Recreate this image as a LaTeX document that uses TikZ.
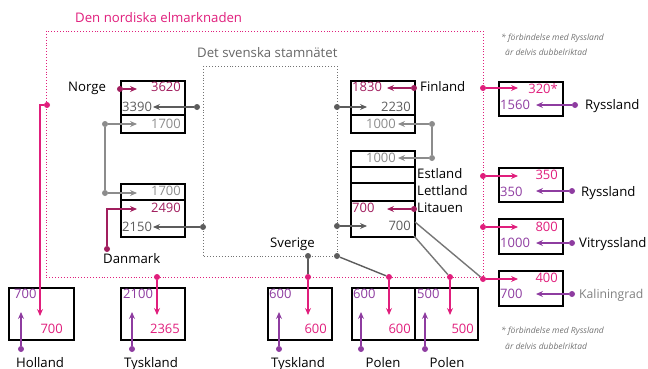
\documentclass[tikz,border=0pt]{standalone}
\usepackage{fontspec}
\setmainfont{Open Sans}
\usepackage{tikz}
\usetikzlibrary{arrows.meta,positioning,calc}
\definecolor{elPink}{HTML}{E01E7C}
\definecolor{elWine}{HTML}{A11E5E}
\definecolor{elPurple}{HTML}{8E3CA0}
\definecolor{elDark}{HTML}{5C5C5C}
\definecolor{elLight}{HTML}{8C8C8C}
\definecolor{elMid}{HTML}{767676}
\tikzset{
  elbox/.style={draw=black,line width=1.6pt,anchor=north west,inner sep=0pt,minimum width=64pt},
  knot/.style={circle,fill=#1,inner sep=0pt,minimum size=6pt},
  flow/.style={line width=1.4pt,-{Stealth[length=7pt,width=6pt,inset=2.5pt]}},
  link/.style={line width=1.6pt},
  num/.style={inner sep=0pt,font=\fontsize{13}{15}\selectfont},
  land/.style={inner sep=0pt,font=\fontsize{13.2}{16}\selectfont},
  note/.style={inner sep=0pt,anchor=base west,black!55,font=\fontsize{8.5}{10}\selectfont\itshape},
}

\begin{document}
\begin{tikzpicture}[x=1pt,y=-1pt]
\useasboundingbox (0,0) rectangle (648,369);
\draw[elPink,dotted,line width=0.9pt] (46,31) rectangle (483,277);
\node[land,anchor=base west,elPink] (nordtitle) at (75,23) {Den nordiska elmarknaden};
\draw[black!55,dotted,line width=0.9pt] (203,66) rectangle (337,256);
\node[land,anchor=base west,black!60] (sthtitle) at (197,58) {Det svenska stamnätet};
\node[note] (note1a) at (501,41) {* förbindelse med Ryssland};
\node[note] (note1b) at (505,56) {är delvis dubbelriktad};
\node[note] (note2a) at (501,333) {* förbindelse med Ryssland};
\node[note] (note2b) at (505,349) {är delvis dubbelriktad};

% Norge och Danmark
\node[elbox,minimum height=52pt] (norbox) at (120,80) {};
\draw[line width=1.6pt] (120,115) -- (184,115);
\node[land,anchor=base west] (norge) at (68,92) {Norge};
\node[num,anchor=base east,elWine] (nor-a) at (181,92) {3620};
\node[num,anchor=base west,elDark] (nor-b) at (122,111) {3390};
\node[num,anchor=base east,elLight] (nor-c) at (181,128) {1700};
\node[elbox,minimum height=53pt] (dkbox) at (120,183) {};
\draw[line width=1.6pt] (120,200) -- (184,200);
\node[num,anchor=base east,elLight] (dk-c) at (181,195) {1700};
\node[num,anchor=base east,elWine] (dk-a) at (181,212) {2490};
\node[num,anchor=base west,elDark] (dk-b) at (122,231) {2150};
\node[land,anchor=base west] (danmark) at (103,263) {Danmark};

\node[knot=elWine] (nor-ut) at (120,89) {};
\coordinate (nor-in) at (137,89);
\draw[flow,elWine] (nor-ut) -- (nor-in);
\node[knot=elDark] (se-nor) at (197,107) {};
\coordinate (se-nor-in) at (153,107);
\draw[flow,elDark] (se-nor) -- (se-nor-in);
\node[knot=elLight] (sk-top) at (105,124) {};
\node[knot=elLight] (sk-bot) at (105,193) {};
\coordinate (sk-top-in) at (137,124);
\coordinate (sk-bot-in) at (137,193);
\draw[link,elLight] (sk-top) -- (sk-bot);
\draw[flow,elLight] (sk-top) -- (sk-top-in);
\draw[flow,elLight] (sk-bot) -- (sk-bot-in);
\node[knot=elWine] (dk-ut) at (107,249) {};
\coordinate (dk-in) at (137,209);
\draw[flow,elWine] (dk-ut) |- (dk-in);
\node[knot=elDark] (se-dk) at (203,227) {};
\coordinate (se-dk-in) at (153,227);
\draw[flow,elDark] (se-dk) -- (se-dk-in);

% Finland och Baltikum
\node[elbox,minimum height=52pt] (finbox) at (350,80) {};
\draw[line width=1.6pt] (350,115) -- (414,115);
\node[land,anchor=base west] (finland) at (420,92) {Finland};
\node[num,anchor=base west,elWine] (fin-a) at (352,92) {1830};
\node[num,anchor=base east,elDark] (fin-b) at (411,111) {2230};
\node[num,anchor=base east,elLight] (fin-c) at (396,128) {1000};
\node[elbox,minimum height=86pt] (baltbox) at (350,150) {};
\draw[line width=1.6pt] (350,167) -- (414,167);
\draw[line width=1.6pt] (350,183) -- (414,183);
\draw[line width=1.6pt] (350,201) -- (414,201);
\node[num,anchor=base east,elLight] (balt-c) at (396,162) {1000};
\node[land,anchor=base west] (estland) at (417,178) {Estland};
\node[land,anchor=base west] (lettland) at (417,195) {Lettland};
\node[land,anchor=base west] (litauen) at (417,212) {Litauen};
\node[num,anchor=base west,elWine] (lit-a) at (352,212) {700};
\node[num,anchor=base east,elDark] (lit-b) at (411,230) {700};

\node[knot=elWine] (fin-ut) at (414,88) {};
\coordinate (fin-in) at (387,88);
\draw[flow,elWine] (fin-ut) -- (fin-in);
\node[knot=elDark] (se-fin) at (337,107) {};
\coordinate (se-fin-in) at (367,107);
\draw[flow,elDark] (se-fin) -- (se-fin-in);
\node[knot=elLight] (est-top) at (432,124) {};
\node[knot=elLight] (est-bot) at (432,158) {};
\coordinate (est-top-in) at (398,124);
\coordinate (est-bot-in) at (398,158);
\draw[link,elLight] (est-top) -- (est-bot);
\draw[flow,elLight] (est-top) -- (est-top-in);
\draw[flow,elLight] (est-bot) -- (est-bot-in);
\node[knot=elWine] (lit-ut) at (414,209) {};
\coordinate (lit-in) at (387,209);
\draw[flow,elWine] (lit-ut) -- (lit-in);
\node[knot=elDark] (se-lit) at (337,226) {};
\coordinate (se-lit-in) at (367,226);
\draw[flow,elDark] (se-lit) -- (se-lit-in);

% Sverige mot kontinenten
\node[land,anchor=base west] (sverige) at (270,247) {Sverige};
\node[knot=elDark] (se-ty) at (308,256) {};
\node[knot=elDark] (se-hörn) at (337,256) {};
\coordinate (lit-k1) at (415,222);
\coordinate (lit-k2) at (414,236);
\node[knot=elPink] (ty2-ut) at (308,277) {};
\node[knot=elPink] (pl1-ut) at (389,277) {};
\node[knot=elPink] (pl2-ut) at (450,277) {};
\node[knot=elPink] (kal-ut) at (483,279) {};
\draw[link,elDark] (se-ty) -- (ty2-ut);
\draw[link,elDark,line width=1.4pt] (se-hörn) -- (pl1-ut);
\draw[link,elMid,line width=1.4pt] (lit-k1) -- (kal-ut);
\draw[link,elMid,line width=1.4pt] (lit-k2) -- (pl2-ut);

% Holland, Tyskland, Polen
\node[elbox,minimum width=65pt,minimum height=52pt] (holbox) at (8,287) {};
\node[num,anchor=base west,elPurple] (hol-a) at (14,298) {700};
\node[num,anchor=base east,elPink] (hol-b) at (63,333) {700};
\node[land,anchor=base] (holland) at (40,367) {Holland};
\node[elbox,minimum height=52pt] (ty1box) at (120,287) {};
\node[num,anchor=base west,elPurple] (ty1-a) at (123,298) {2100};
\node[num,anchor=base east,elPink] (ty1-b) at (180,333) {2365};
\node[land,anchor=base] (tyskland1) at (151,367) {Tyskland};
\node[elbox,minimum height=52pt] (ty2box) at (267,287) {};
\node[num,anchor=base west,elPurple] (ty2-a) at (269,298) {600};
\node[num,anchor=base east,elPink] (ty2-b) at (327,333) {600};
\node[land,anchor=base] (tyskland2) at (298,367) {Tyskland};
\node[elbox,minimum width=63pt,minimum height=52pt] (pl1box) at (351,287) {};
\node[num,anchor=base west,elPurple] (pl1-a) at (353,298) {600};
\node[num,anchor=base east,elPink] (pl1-b) at (411,333) {600};
\node[land,anchor=base] (polen1) at (383,367) {Polen};
\node[elbox,minimum width=63pt,minimum height=52pt] (pl2box) at (414,287) {};
\node[num,anchor=base west,elPurple] (pl2-a) at (417,298) {500};
\node[num,anchor=base east,elPink] (pl2-b) at (474,333) {500};
\node[land,anchor=base] (polen2) at (447,367) {Polen};

\node[knot=elPink] (hol-ut) at (47,105) {};
\coordinate (hol-in) at (40,316);
\draw[flow,elPink] (hol-ut) -| (hol-in);
\node[knot=elPink] (ty1-ut) at (157,277) {};
\coordinate (ty1-in) at (157,315);
\draw[flow,elPink] (ty1-ut) -- (ty1-in);
\coordinate (ty2-in) at (308,315);
\draw[flow,elPink] (ty2-ut) -- (ty2-in);
\coordinate (pl1-in) at (389,315);
\draw[flow,elPink] (pl1-ut) -- (pl1-in);
\coordinate (pl2-in) at (450,315);
\draw[flow,elPink] (pl2-ut) -- (pl2-in);
\node[knot=elPurple] (hol-imp) at (21,349) {};
\coordinate (hol-imp-in) at (21,312);
\draw[flow,elPurple] (hol-imp) -- (hol-imp-in);
\node[knot=elPurple] (ty1-imp) at (132,349) {};
\coordinate (ty1-imp-in) at (132,312);
\draw[flow,elPurple] (ty1-imp) -- (ty1-imp-in);
\node[knot=elPurple] (ty2-imp) at (279,349) {};
\coordinate (ty2-imp-in) at (279,312);
\draw[flow,elPurple] (ty2-imp) -- (ty2-imp-in);
\node[knot=elPurple] (pl1-imp) at (361,349) {};
\coordinate (pl1-imp-in) at (361,312);
\draw[flow,elPurple] (pl1-imp) -- (pl1-imp-in);
\node[knot=elPurple] (pl2-imp) at (425,349) {};
\coordinate (pl2-imp-in) at (425,312);
\draw[flow,elPurple] (pl2-imp) -- (pl2-imp-in);

% Ryssland, Vitryssland, Kaliningrad
\node[elbox,minimum height=34pt] (ru1box) at (498,81) {};
\node[num,anchor=base east,elPink] (ru1-a) at (558,93) {320*};
\node[num,anchor=base west,elPurple] (ru1-b) at (500,109) {1560};
\node[land,anchor=base west] (ryssland1) at (585,109) {Ryssland};
\node[elbox,minimum height=34pt] (ru2box) at (498,167) {};
\node[num,anchor=base east,elPink] (ru2-a) at (558,179) {350};
\node[num,anchor=base west,elPurple] (ru2-b) at (500,196) {350};
\node[land,anchor=base west] (ryssland2) at (581,196) {Ryssland};
\node[elbox,minimum height=35pt] (bybox) at (498,218) {};
\node[num,anchor=base east,elPink] (by-a) at (558,231) {800};
\node[num,anchor=base west,elPurple] (by-b) at (500,247) {1000};
\node[land,anchor=base west] (vitryssland) at (579,247) {Vitryssland};
\node[elbox,minimum height=35pt] (kalbox) at (498,270) {};
\node[num,anchor=base east,elPink] (kal-a) at (558,282) {400};
\node[num,anchor=base west,elPurple] (kal-b) at (500,298) {700};
\node[land,anchor=base west,black!50,font=\fontsize{12.2}{15}\selectfont] (kaliningrad) at (579,298) {Kaliningrad};

\node[knot=elPink] (ru1-ut) at (483,88) {};
\coordinate (ru1-in) at (518,88);
\draw[flow,elPink] (ru1-ut) -- (ru1-in);
\node[knot=elPink] (ru2-ut) at (483,176) {};
\coordinate (ru2-in) at (518,176);
\draw[flow,elPink] (ru2-ut) -- (ru2-in);
\node[knot=elPink] (by-ut) at (483,227) {};
\coordinate (by-in) at (518,227);
\draw[flow,elPink] (by-ut) -- (by-in);
\coordinate (kal-in) at (518,279);
\draw[flow,elPink] (kal-ut) -- (kal-in);
\node[knot=elPurple] (ru1-imp) at (575,105) {};
\coordinate (ru1-imp-in) at (536,105);
\draw[flow,elPurple] (ru1-imp) -- (ru1-imp-in);
\node[knot=elPurple] (ru2-imp) at (572,191) {};
\coordinate (ru2-imp-in) at (536,191);
\draw[flow,elPurple] (ru2-imp) -- (ru2-imp-in);
\node[knot=elPurple] (by-imp) at (572,243) {};
\coordinate (by-imp-in) at (536,243);
\draw[flow,elPurple] (by-imp) -- (by-imp-in);
\node[knot=elPurple] (kal-imp) at (572,294) {};
\coordinate (kal-imp-in) at (536,294);
\draw[flow,elPurple] (kal-imp) -- (kal-imp-in);
\end{tikzpicture}
\end{document}
